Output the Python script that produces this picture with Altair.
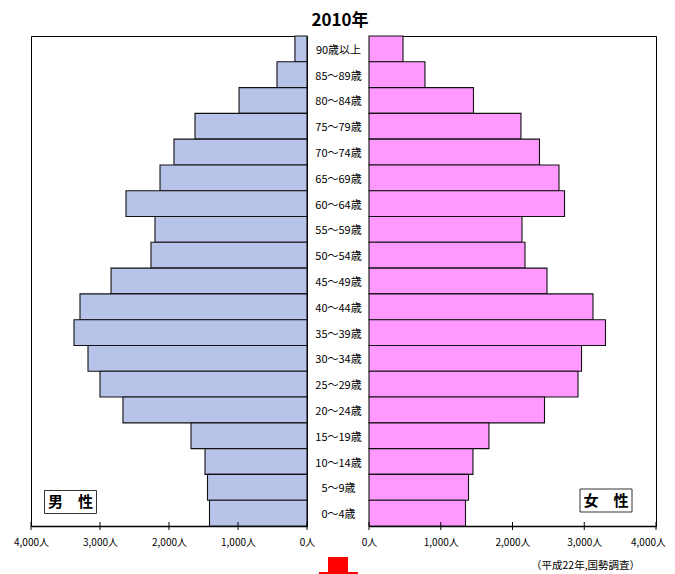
import altair as alt
import pandas as pd

ages = ["90歳以上","85～89歳","80～84歳","75～79歳","70～74歳","65～69歳","60～64歳","55～59歳","50～54歳","45～49歳",
        "40～44歳","35～39歳","30～34歳","25～29歳","20～24歳","15～19歳","10～14歳","5～9歳","0～4歳"]
male = [175,435,985,1623,1928,2130,2623,2203,2261,2840,3290,3377,3174,3000,2667,1681,1478,1442,1413]
female = [474,780,1456,2118,2376,2648,2725,2132,2174,2481,3122,3296,2962,2913,2446,1672,1449,1387,1345]
ticks = [0,1000,2000,3000,4000]
FONT = "Noto Sans CJK JP"
H = 490
df = pd.DataFrame({"age": ages, "male": male, "female": female})
tick_df = pd.DataFrame({"v": ticks})
fmt = "format(datum.value, ',') + '人'"

def panel(field, color, width, reverse, label, lx, ly, extra=None, offset=0):
    sc = alt.Scale(domain=[0,4000], reverse=reverse, nice=False)
    ax = alt.Axis(values=ticks, labelExpr=fmt, title=None, grid=False, domainColor="#000", domainWidth=1.3,
                  tickSize=0, labelFont=FONT, labelFontSize=10, labelColor="#000",
                  labelPadding=11, labelFlush=False, labelOverlap=False, orient="bottom",
                  labelOffset=alt.ExprRef(f"datum.value == 4000 ? {offset} : 0") if offset else 0)
    x = alt.X(f"{field}:Q", scale=sc, axis=ax)
    y = alt.Y("age:N", sort=ages, scale=alt.Scale(paddingInner=0, paddingOuter=0), axis=None)
    bars = alt.Chart(df).mark_bar(color=color, stroke="#111", strokeWidth=1.1).encode(x=x, y=y)
    tk = alt.Chart(tick_df).mark_rule(color="#000", strokeWidth=1).encode(
        x=alt.X("v:Q", scale=sc, axis=ax), y=alt.value(486), y2=alt.value(494))
    lab = pd.DataFrame({"t":[label]})
    rect = alt.Chart(lab).mark_rect(fill="white", stroke="#333", strokeWidth=1).encode(
        x=alt.value(lx-26), x2=alt.value(lx+26), y=alt.value(ly-11.5), y2=alt.value(ly+11.5))
    box = alt.Chart(lab).mark_text(font=FONT, fontSize=15, fontWeight="bold", color="#000").encode(
        x=alt.value(lx), y=alt.value(ly), text="t:N")
    layers = [bars, tk, rect, box]
    if extra is not None:
        layers.append(extra)
    return alt.layer(*layers).properties(width=width, height=H)

note = alt.Chart(pd.DataFrame({"t":["（平成22年,国勢調査）"]})).mark_text(
    font=FONT, fontSize=10.5, color="#000", align="left").encode(
    x=alt.value(162), y=alt.value(529.5), text="t:N")

left = panel("male", "#b7c3e8", 276, True, "男　性", 39.5, 466)
right = panel("female", "#ff99ff", 287, False, "女　性", 237, 464.5, note, offset=-8)

mid_df = pd.DataFrame({"age": ages})
mid_text = alt.Chart(mid_df).mark_text(font=FONT, fontSize=11, color="#000", dy=2).encode(
    y=alt.Y("age:N", sort=ages, scale=alt.Scale(paddingInner=0, paddingOuter=0), axis=None),
    x=alt.value(31.5), text="age:N")
arrow_df = pd.DataFrame({"k":["arrow"]})
shaft = alt.Chart(arrow_df).mark_rect(color="#ff0000").encode(
    x=alt.value(21), x2=alt.value(41), y=alt.value(521), y2=alt.value(538))
head = alt.Chart(arrow_df).mark_rect(color="#ff0000").encode(
    x=alt.value(12), x2=alt.value(51), y=alt.value(536), y2=alt.value(538.5))
mid = alt.layer(mid_text, shaft, head).properties(width=62, height=H, view=alt.ViewBackground(stroke="transparent"))

chart = alt.hconcat(left, mid, right, spacing=0, bounds="flush").resolve_scale(x="independent", y="independent").properties(
    title=alt.TitleParams("2010年", font=FONT, fontSize=17, fontWeight="bold", color="#000",
                          anchor="middle", offset=5, dx=0.5),
    padding={"left":5,"top":3,"right":0,"bottom":0}
).configure_view(stroke="#000", strokeWidth=1)
chart.save("out.html", embed_options={"renderer": "svg", "actions": False})
